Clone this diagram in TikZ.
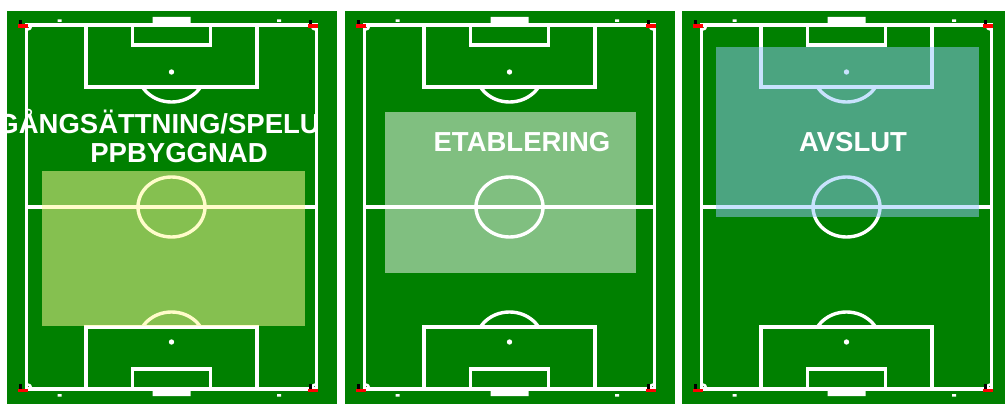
\documentclass[tikz,border=0pt]{standalone}
\usepackage{fontspec}
\setmainfont{Liberation Sans}
\usetikzlibrary{positioning}
\definecolor{pitchgreen}{RGB}{0,128,0}
\definecolor{zoneyellow}{RGB}{255,251,154}
\definecolor{zoneblue}{RGB}{148,200,253}
\definecolor{flagred}{RGB}{255,0,0}
\tikzset{
  pline/.style={draw=white,line width=3.4pt},
  zonetext/.style={text=white,font=\fontsize{27.5}{29}\selectfont\bfseries,inner sep=0pt,anchor=base}
}

\begin{document}
\begin{tikzpicture}[x=1pt,y=-1pt]
  \useasboundingbox (0,0) rectangle (1005,404);
  \clip (0,0) rectangle (1005,404);
  \fill[white] (0,0) rectangle (1005,404);
  % three pitches
  \foreach \cx in {171.5,509.5,846.5}{
    \fill[pitchgreen] (\cx-164.5,11) rectangle (\cx+165.5,410);
    \draw[pline] (\cx-145,25) rectangle (\cx+145,389);
    \draw[pline] (\cx-145,207) -- (\cx+145,207);
    \draw[pline] (\cx,207) ellipse [x radius=33.5,y radius=30];
    \fill[white] (\cx,207) circle (1.8);
    \draw[pline] (\cx-85.5,25) rectangle (\cx+85.5,87);
    \draw[pline] (\cx-39,25) rectangle (\cx+39,45);
    \draw[pline] (\cx-85.5,389) rectangle (\cx+85.5,327);
    \draw[pline] (\cx-39,389) rectangle (\cx+39,369);
    \fill[white] (\cx,72) circle (2.7) (\cx,342) circle (2.7);
    \begin{scope}
      \clip (\cx-40,87) rectangle (\cx+40,120);
      \draw[pline] (\cx,72) ellipse [x radius=33.5,y radius=30];
    \end{scope}
    \begin{scope}
      \clip (\cx-40,327) rectangle (\cx+40,290);
      \draw[pline] (\cx,342) ellipse [x radius=33.5,y radius=30];
    \end{scope}
    % goals and marks
    \fill[white] (\cx-19,17) rectangle (\cx+19,25) (\cx-19,389) rectangle (\cx+19,396);
    \fill[white] (\cx-114,19.5) rectangle ++(4,2.5) (\cx+105.5,19.5) rectangle ++(4,2.5);
    \fill[white] (\cx-114,394) rectangle ++(4,2.5) (\cx+105.5,394) rectangle ++(4,2.5);
    % corners
    \begin{scope}
      \clip (\cx-145,25) rectangle (\cx+145,389);
      \foreach \px/\py in {-145/25,145/25,-145/389,145/389}
        \draw[white,line width=2.5pt] (\cx+\px,\py) circle (5);
    \end{scope}
    \foreach \px/\py in {-145/25,145/25,-145/389,145/389}{
      \fill[flagred] (\cx+\px-9,\py-0.5) rectangle ++(10,3.5);
      \fill[black] (\cx+\px-8,\py-5) rectangle ++(3.5,4.5);
    }
  }
  % zones
  \fill[zoneyellow,fill opacity=.52] (42,171) rectangle (305,326);
  \fill[white,fill opacity=.5] (385,112) rectangle (636,273);
  \fill[zoneblue,fill opacity=.51] (716,47) rectangle (979,217);
  % labels
  \node[zonetext,anchor=base east] (igang) at (320,133) {IGÅNGSÄTTNING/SPELU};
  \node[zonetext] (uppbygg) at (179,162) {PPBYGGNAD};
  \node[zonetext] (etabl) at (522,151) {ETABLERING};
  \node[zonetext] (avslut) at (853,151) {AVSLUT};
\end{tikzpicture}
\end{document}
